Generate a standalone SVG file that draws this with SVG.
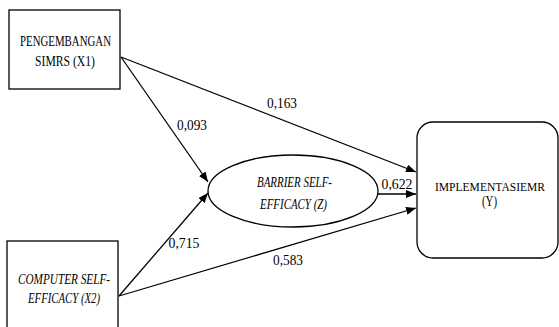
<svg xmlns="http://www.w3.org/2000/svg" width="559" height="327" viewBox="0 0 559 327">
<style>
.box{fill:#fff;stroke:#000;stroke-width:1.3}
.t{font-family:'Liberation Serif','DejaVu Serif',serif;font-size:15px;fill:#000;text-anchor:middle}
.i{font-style:italic}
.c{stroke:#000;stroke-width:1.3;fill:none;marker-end:url(#ah)}
</style>
<defs>
<marker id="ah" markerWidth="10" markerHeight="8" refX="10" refY="4" orient="auto" markerUnits="userSpaceOnUse">
<path d="M0,0 L10,4 L0,8 Z" fill="#000"/>
</marker>
</defs>
<rect width="559" height="327" fill="#fff"/>
<g id="connectors">
<line class="c" x1="121" y1="57" x2="416" y2="172"/>
<line class="c" x1="121" y1="57" x2="208" y2="182"/>
<line class="c" x1="119" y1="296" x2="208" y2="193"/>
<line class="c" x1="119" y1="296" x2="416" y2="208"/>
<line class="c" x1="378" y1="194" x2="416" y2="194"/>
<text class="t" x="282" y="108" textLength="30" lengthAdjust="spacingAndGlyphs">0,163</text>
<text class="t" x="192" y="130" textLength="30" lengthAdjust="spacingAndGlyphs">0,093</text>
<text class="t" x="397" y="189" textLength="31" lengthAdjust="spacingAndGlyphs">0,622</text>
<text class="t" x="184" y="248" textLength="31" lengthAdjust="spacingAndGlyphs">0,715</text>
<text class="t" x="288" y="265" textLength="30" lengthAdjust="spacingAndGlyphs">0,583</text>
</g>
<g id="x1">
<rect class="box" x="9" y="10" width="111" height="79"/>
<text class="t" x="65.5" y="46" textLength="91" lengthAdjust="spacingAndGlyphs">PENGEMBANGAN</text>
<text class="t" x="65" y="66" textLength="60" lengthAdjust="spacingAndGlyphs">SIMRS (X1)</text>
</g>
<g id="x2">
<rect class="box" x="7" y="241" width="111" height="95"/>
<text class="t i" x="64" y="284" textLength="92" lengthAdjust="spacingAndGlyphs">COMPUTER SELF-</text>
<text class="t i" x="64" y="303" textLength="72" lengthAdjust="spacingAndGlyphs">EFFICACY (X2)</text>
</g>
<g id="z">
<ellipse class="box" cx="293" cy="191" rx="85" ry="36"/>
<text class="t i" x="294.5" y="187" textLength="75" lengthAdjust="spacingAndGlyphs">BARRIER SELF-</text>
<text class="t i" x="293.5" y="209" textLength="67" lengthAdjust="spacingAndGlyphs">EFFICACY (Z)</text>
</g>
<g id="y">
<rect class="box" x="417" y="122" width="141" height="136" rx="16" ry="16"/>
<text class="t" style="font-size:13px" x="490" y="191" textLength="110" lengthAdjust="spacingAndGlyphs">IMPLEMENTASIEMR</text>
<text class="t" x="489.5" y="206" textLength="15" lengthAdjust="spacingAndGlyphs">(Y)</text>
</g>
</svg>
